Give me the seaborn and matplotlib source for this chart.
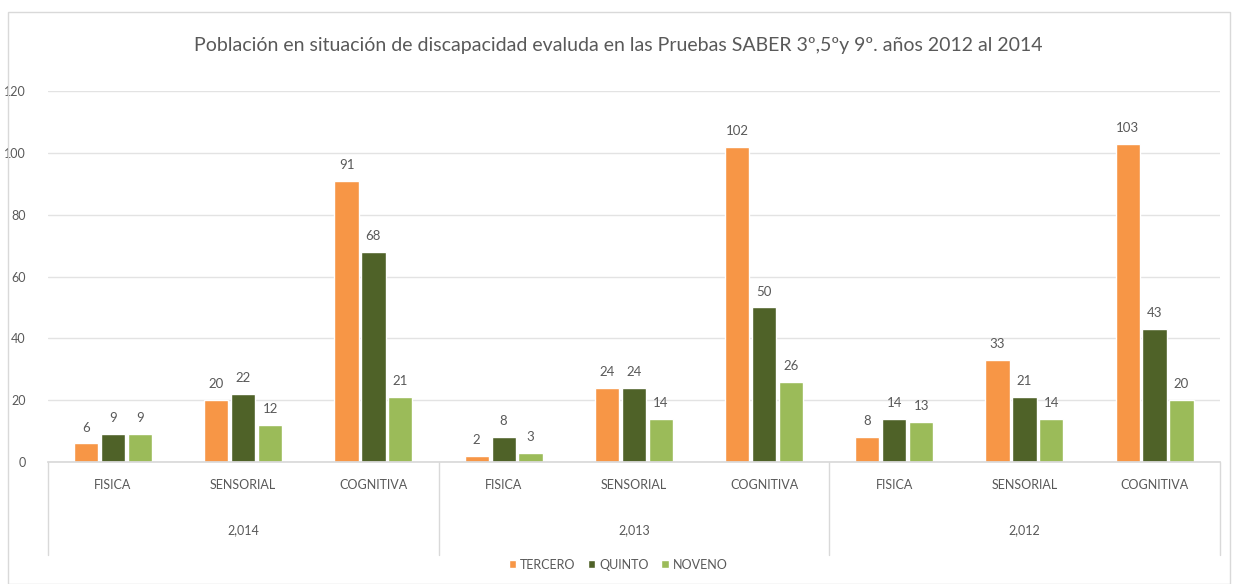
import numpy as np
import pandas as pd
import matplotlib
matplotlib.use("Agg")
import matplotlib.pyplot as plt
import matplotlib.transforms as mtransforms
from matplotlib.patches import Patch, Rectangle
import seaborn as sns

years = ["2,014", "2,013", "2,012"]
tipos = ["FISICA", "SENSORIAL", "COGNITIVA"]
series = ["TERCERO", "QUINTO", "NOVENO"]
tercero = [6, 20, 91, 2, 24, 102, 8, 33, 103]
quinto = [9, 22, 68, 8, 24, 50, 14, 21, 43]
noveno = [9, 12, 21, 3, 14, 26, 13, 14, 20]
colores = ["#F79646", "#4F6228", "#9BBB59"]

cats = [f"{t} {y}" for y in years for t in tipos]
df = pd.DataFrame({
    "cat": cats * 3,
    "serie": np.repeat(series, len(cats)),
    "valor": tercero + quinto + noveno,
})

sns.set_theme(style="white")
plt.rcParams["font.family"] = ["Lato", "DejaVu Sans"]
gris = "#595959"

fig = plt.figure(figsize=(12.36, 5.84), dpi=100)
ax = fig.add_axes([0.0388, 0.209, 0.948, 0.635])
fig.patches.append(Rectangle((8 / 1236, 0), 1 - 14 / 1236, 1 - 12 / 584,
                             transform=fig.transFigure, fill=False,
                             edgecolor="#D9D9D9", linewidth=1))

sns.barplot(data=df, x="cat", y="valor", hue="serie", order=cats,
            hue_order=series, palette=colores, width=0.62, gap=0.1,
            legend=False, ax=ax, saturation=1)

for cont in ax.containers:
    ax.bar_label(cont, padding=7, fontsize=9.5, color=gris)

ax.set_ylim(0, 120)
ax.set_xlim(-0.5, len(cats) - 0.5)
ax.set_yticks(range(0, 121, 20))
ax.yaxis.grid(True, color="#E3E3E3", linewidth=1)
ax.set_axisbelow(True)
for s in ["top", "right", "left"]:
    ax.spines[s].set_visible(False)
ax.spines["bottom"].set_color("#D9D9D9")
ax.set_xlabel("")
ax.set_ylabel("")
ax.set_xticks(range(len(cats)))
ax.set_xticklabels(tipos * 3, fontsize=9, color=gris)
ax.tick_params(axis="x", length=0, pad=12)
ax.tick_params(axis="y", length=0, labelsize=9, labelcolor=gris, pad=16)

trans = mtransforms.blended_transform_factory(ax.transData, ax.transAxes)
for b in [-0.5, 2.5, 5.5, 8.5]:
    ax.plot([b, b], [0, -0.25], transform=trans, color="#D9D9D9",
            linewidth=1, clip_on=False)
for i, y in enumerate(years):
    ax.text(i * 3 + 1, -0.185, y, transform=trans, ha="center", va="center",
            fontsize=9, color=gris)

fig.text(0.5, 0.922, "Población en situación de discapacidad evaluda en las Pruebas SABER 3º,5ºy 9º. años 2012 al 2014",
         ha="center", va="center", fontsize=14, color=gris)

handles = [Patch(facecolor=c, label=s) for c, s in zip(colores, series)]
fig.legend(handles=handles, loc="center", bbox_to_anchor=(0.5, 0.033), ncol=3,
           frameon=False, fontsize=9, handlelength=0.6, handleheight=0.6,
           handletextpad=0.3, columnspacing=1.0, labelcolor=gris)

fig.savefig("out.png", dpi=100)
